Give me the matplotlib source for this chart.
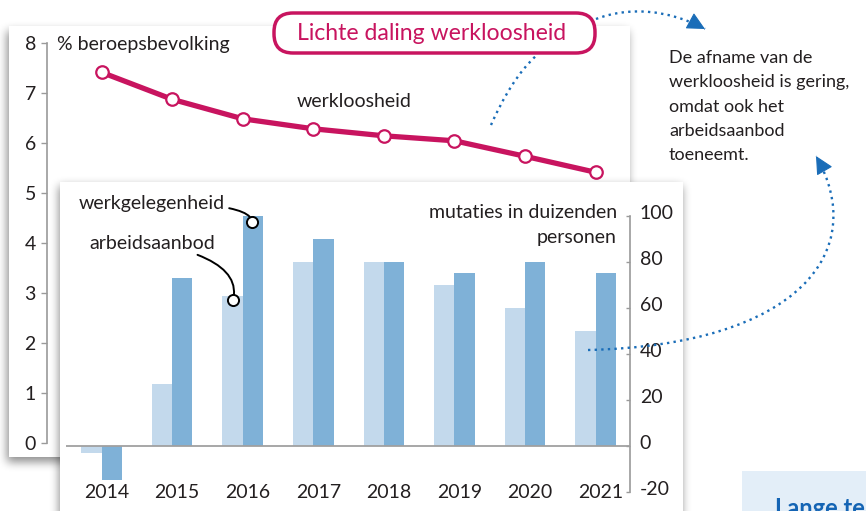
import numpy as np
import matplotlib
matplotlib.use('Agg')
import matplotlib.pyplot as plt
from matplotlib.patches import Rectangle, FancyBboxPatch, FancyArrowPatch, PathPatch
from matplotlib.path import Path
from matplotlib.transforms import ScaledTranslation
from matplotlib.ticker import FuncFormatter

plt.rcParams['font.family'] = ['Lato', 'DejaVu Sans']

# ---------------- data ----------------
years = ['2014', '2015', '2016', '2017', '2018', '2019', '2020', '2021']
werkloosheid = [7.42, 6.88, 6.49, 6.29, 6.15, 6.05, 5.74, 5.42]        # % beroepsbevolking
arbeidsaanbod = [-3, 27, 65, 80, 80, 70, 60, 50]                       # mutaties x1000
werkgelegenheid = [-15, 73, 100, 90, 80, 75, 80, 75]                   # mutaties x1000
left_ticks = [0, 1, 2, 3, 4, 5, 6, 7, 8]
right_ticks = [-20, 0, 20, 40, 60, 80, 100]
note_lines = ['De afname van de', 'werkloosheid is gering,', 'omdat ook het',
              'arbeidsaanbod', 'toeneemt.']

MAG = '#c8145f'
LIGHT = '#c3d9ec'
DARK = '#7fb1d7'
BLUE = '#1a6db8'
TXT = '#231f20'
GREY = '#9a9a9a'
FS = 14

W, H = 866, 511
fig = plt.figure(figsize=(W / 100, H / 100), dpi=100)
fig.patch.set_facecolor('white')


def overlay(z):
    return fig.add_axes([0, 0, 1, 1], zorder=z)


def finish(a):
    a.set_xlim(0, W)
    a.set_ylim(H, 0)
    a.axis('off')


def blur(a, r, passes=3):
    k = np.ones(2 * r + 1) / (2 * r + 1)
    for _ in range(passes):
        a = np.apply_along_axis(lambda m: np.convolve(m, k, mode='same'), 0, a)
        a = np.apply_along_axis(lambda m: np.convolve(m, k, mode='same'), 1, a)
    return a


def shadow(a, x0, y0, x1, y1, dx, dy, r, alpha):
    m = np.zeros((H + 40, W + 40))
    m[max(0, y0 + dy + 20):y1 + dy + 20, max(0, x0 + dx + 20):x1 + dx + 20] = 1
    m = blur(m, r)[20:20 + H, 20:20 + W]
    rgba = np.zeros((H, W, 4))
    rgba[..., 3] = m * alpha
    a.imshow(rgba, extent=(0, W, H, 0), aspect='auto', interpolation='bilinear', zorder=0)


# ---------------- background card (line chart) ----------------
bg = overlay(0)
shadow(bg, 9, 26, 630, 457, -2, 5, 4, 0.45)
bg.add_patch(Rectangle((9, 26), 621, 431, fc='white', ec='none', zorder=1))
finish(bg)

# ---------------- line chart ----------------
x = np.arange(len(years))
ax1 = fig.add_axes([47 / W, (H - 443.3) / H, 583 / W, 400 / H], zorder=1)
ax1.patch.set_visible(False)
ax1.plot(x, werkloosheid, color=MAG, lw=3.8, marker='o', ms=9, mfc='white',
         mec=MAG, mew=1.6, solid_capstyle='round', clip_on=False, zorder=3)
ax1.set_xlim(-0.772, 7.486)
ax1.set_ylim(0, 8)
for s in ['top', 'right', 'bottom']:
    ax1.spines[s].set_visible(False)
ax1.spines['left'].set_color(GREY)
ax1.spines['left'].set_linewidth(1.2)
ax1.spines['left'].set_bounds(0, 8)
ax1.set_xticks([])
ax1.set_yticks(left_ticks)
ax1.tick_params(axis='y', length=4, width=1, color=GREY, labelsize=FS, pad=4,
                labelcolor=TXT)
ax1.text(-0.63, 7.97, '% beroepsbevolking', fontsize=FS, color=TXT, ha='left', va='center')
ax1.text(3.58, 6.83, 'werkloosheid', fontsize=FS, color=TXT, ha='center', va='center')

# ---------------- foreground card (bar chart) ----------------
mid = overlay(2)
shadow(mid, 60, 182, 683, 540, -1, 4, 4, 0.45)
mid.add_patch(Rectangle((60, 182), 623, 340, fc='white', ec='none', zorder=1))
finish(mid)

ax2 = fig.add_axes([66 / W, 0, 564 / W, 329 / H], zorder=3)
ax2.patch.set_visible(False)
bw = 0.2875
ax2.bar(x - bw / 2, arbeidsaanbod, bw, color=LIGHT, lw=0, zorder=2)
ax2.bar(x + bw / 2, werkgelegenheid, bw, color=DARK, lw=0, zorder=2)
ax2.axhline(0, color='#a0a0a0', lw=1.3, zorder=3)
ax2.set_xlim(-0.503, 7.486)
ax2.set_ylim(-28.39, 114.65)
for s in ['top', 'left', 'bottom']:
    ax2.spines[s].set_visible(False)
ax2.spines['right'].set_color(GREY)
ax2.spines['right'].set_linewidth(1.2)
ax2.spines['right'].set_bounds(-20, 100)
ax2.yaxis.tick_right()
ax2.set_yticks(right_ticks)
ax2.yaxis.set_major_formatter(FuncFormatter(lambda v, p: '%d' % v))
ax2.set_xticks([])
ax2.tick_params(axis='y', direction='in', length=3, width=1, color=GREY,
                labelsize=FS, pad=7, labelcolor=TXT)
up = ScaledTranslation(0, 4 / 100, fig.dpi_scale_trans)
for t in ax2.yaxis.get_major_ticks():
    t.label2.set_transform(t.label2.get_transform() + up)
for i, yl in enumerate(years):
    ax2.text(x[i] + 0.07, -20.5, yl, fontsize=FS, color=TXT, ha='center', va='center')

ax2.text(7.30, 101.6, 'mutaties in duizenden', fontsize=FS, color=TXT, ha='right', va='center')
ax2.text(7.30, 90.7, 'personen', fontsize=FS, color=TXT, ha='right', va='center')

# labels with leader lines
ax2.annotate('werkgelegenheid', xy=(2.13, 97.3), xytext=(1.75, 105.5),
             fontsize=FS, color=TXT, ha='right', va='center',
             arrowprops=dict(arrowstyle='-', color='black', lw=1.4,
                             connectionstyle='angle3,angleA=0,angleB=90',
                             shrinkA=1, shrinkB=4), zorder=6)
ax2.plot(2.13, 97.3, 'o', ms=8, mfc='white', mec='black', mew=1.4, zorder=7, clip_on=False)
ax2.annotate('arbeidsaanbod', xy=(1.863, 63.3), xytext=(1.61, 88.1),
             fontsize=FS, color=TXT, ha='right', va='center',
             arrowprops=dict(arrowstyle='-', color='black', lw=1.4,
                             connectionstyle='angle3,angleA=-10,angleB=76',
                             shrinkA=1, shrinkB=4), zorder=6)
ax2.plot(1.863, 63.3, 'o', ms=8, mfc='white', mec='black', mew=1.4, zorder=7, clip_on=False)

# ---------------- top overlay: title pill, notes, arrows ----------------
top = overlay(4)
top.add_patch(FancyBboxPatch((274, 13), 321, 40, boxstyle='round,pad=0,rounding_size=19',
                             fc='white', ec=MAG, lw=2.5, zorder=3))
top.text(432, 33, 'Lichte daling werkloosheid', fontsize=16.6, color=MAG,
         ha='center', va='center', zorder=4)

for k, ln in enumerate(note_lines):
    top.text(669, 58 + k * 24.3, ln, fontsize=13, color=TXT, ha='left', va='center')

# bottom-right box
top.add_patch(Rectangle((742, 471), 140, 60, fc='#e3eef8', ec='none', zorder=1))
top.text(775, 497, 'Lange termijn', fontsize=17, fontweight='bold', color='#1464b4',
         ha='left', va='top', zorder=2)


def dotted_curve(pts, head=True):
    codes = [Path.MOVETO, Path.CURVE4, Path.CURVE4, Path.CURVE4]
    p = PathPatch(Path(pts, codes), fc='none', ec=BLUE, lw=1.7,
                  linestyle=(0, (1.0, 1.8)), zorder=5)
    top.add_patch(p)
    if head:
        end = np.array(pts[-1], float)
        prev = np.array(pts[-2], float)
        d = (end - prev) / np.linalg.norm(end - prev)
        top.add_patch(FancyArrowPatch(tuple(end - d * 10), tuple(end),
                                      arrowstyle='-|>,head_length=0.8,head_width=0.4',
                                      mutation_scale=14, color=BLUE, lw=0.8,
                                      shrinkA=0, shrinkB=0, zorder=6))


dotted_curve([(596, 19), (630, 6), (670, 10), (705, 29)])
dotted_curve([(491, 125), (503, 98), (518, 72), (537, 55)], head=False)
dotted_curve([(588, 350), (800, 345), (870, 250), (816, 156)])
finish(top)

fig.savefig('out.png', dpi=100)
